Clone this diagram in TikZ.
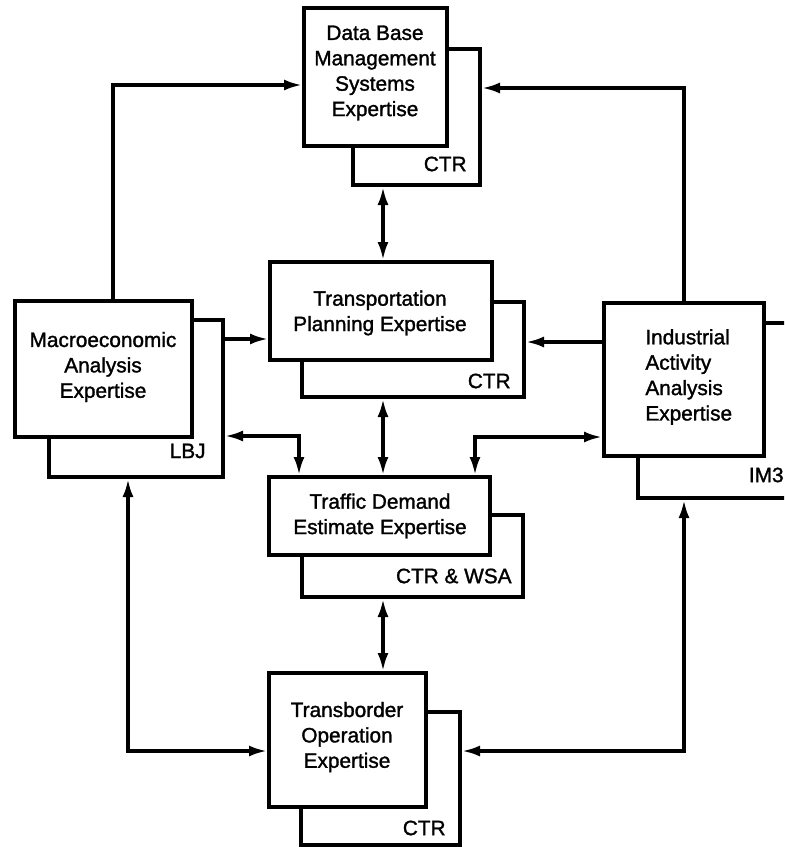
\documentclass[tikz,border=0pt]{standalone}
\usepackage{fontspec}
\setmainfont{Liberation Sans}[FakeBold=1.4]
\usetikzlibrary{arrows.meta}
\begin{document}
\begin{tikzpicture}[x=0.5pt,y=-0.5pt,
  card/.style={draw, fill=white, line width=2pt, inner sep=0pt},
  txt/.style={font=\fontsize{10.4}{12.7}\selectfont, align=center, inner sep=0pt},
  tag/.style={font=\fontsize{10.4}{12.7}\selectfont, inner sep=0pt, anchor=east},
  link/.style={line width=1.6pt, -{Latex[length=9pt,width=5.5pt]}},
  blink/.style={line width=1.6pt, {Latex[length=9pt,width=5.5pt]}-{Latex[length=9pt,width=5.5pt]}}]
\useasboundingbox (0,0) rectangle (784,847);
\clip (0,0) rectangle (784,847);
% boxes: back then front
\node[card, minimum width=63.5pt, minimum height=68pt] (dbB) at (416.5,117) {};
\node[card, minimum width=71.5pt, minimum height=69pt] (dbF) at (375.5,77) {};
\node[card, minimum width=111pt, minimum height=47.5pt] (trB) at (413,349.5) {};
\node[card, minimum width=111pt, minimum height=49pt] (trF) at (381,311) {};
\node[card, minimum width=87pt, minimum height=78.5pt] (maB) at (136,398.5) {};
\node[card, minimum width=88.5pt, minimum height=68pt] (maF) at (103.5,369) {};
\node[card, minimum width=81pt, minimum height=87.5pt] (inB) at (719,410.5) {};
\node[card, minimum width=80pt, minimum height=76.5pt] (inF) at (684,379.5) {};
\node[card, minimum width=110.5pt, minimum height=41pt] (tdB) at (412.5,556) {};
\node[card, minimum width=110.5pt, minimum height=39pt] (tdF) at (379.5,516) {};
\node[card, minimum width=79.5pt, minimum height=66.5pt] (tsB) at (380.5,778.5) {};
\node[card, minimum width=78.5pt, minimum height=67pt] (tsF) at (347.5,740) {};
% texts
\node[txt] (dbT) at (375,73) {Data Base\\Management\\Systems\\Expertise};
\node[txt] (trT) at (380,313) {Transportation\\Planning Expertise};
\node[txt] (maT) at (103,367) {Macroeconomic\\Analysis\\Expertise};
\node[txt, align=left, anchor=west] (inT) at (645,377) {Industrial\\Activity\\Analysis\\Expertise};
\node[txt] (tdT) at (380,516) {Traffic Demand\\Estimate Expertise};
\node[txt] (tsT) at (347,737) {Transborder\\Operation\\Expertise};
% tags
\node[tag] (dbL) at (467,164) {CTR};
\node[tag] (trL) at (511,381) {CTR};
\node[tag] (maL) at (206,451) {LBJ};
\node[tag] (inL) at (784,475) {IM3};
\node[tag] (tdL) at (512,576) {CTR \& WSA};
\node[tag] (tsL) at (446,828) {CTR};
% coordinates
\coordinate (m2t) at ([yshift=-14pt]trF.west);
\coordinate (i2t) at ([yshift=3.75pt]trB.east);
\coordinate (t1) at ([xshift=16pt]tdF.north west);
\coordinate (t3) at ([xshift=47.75pt]tdF.north);
\coordinate (tl) at ([yshift=-5.5pt]tsF.west);
% connectors
\draw[link] ([xshift=4.75pt]maF.north) |- ([yshift=-4pt]dbF.west);
\draw[link] (inF.north) |- ([yshift=14.5pt]dbB.east);
\draw[blink] ([xshift=1pt]trF.north |- dbB.south) -- ([xshift=1pt]trF.north);
\draw[link] (maB.east |- m2t) -- (m2t);
\draw[link] (inF.west |- i2t) -- (i2t);
\draw[blink] ([xshift=1pt]trF.north |- trB.south) -- ([xshift=1pt]trF.north |- tdF.north);
\draw[blink] ([yshift=-18.75pt]maB.east) -| (t1);
\draw[blink] ([yshift=-28.75pt]inF.west) -| (t3);
\draw[blink] ([xshift=1pt]trF.north |- tdB.south) -- ([xshift=1pt]trF.north |- tsF.north);
\draw[blink] ([xshift=-4pt]maB.south) |- (tl);
\draw[blink] (inF.south |- inB.south) |- (tsB.east |- tl);
\end{tikzpicture}
\end{document}
